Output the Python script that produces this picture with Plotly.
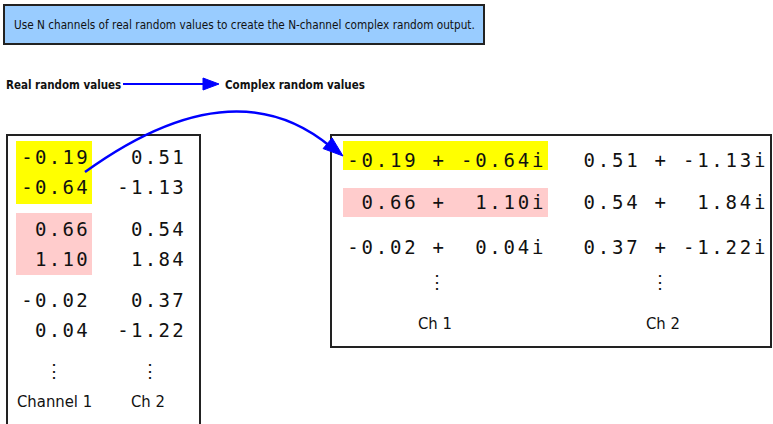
import math

import plotly.graph_objects as go

W, H = 773, 424

# ─── data ────────────────────────────────────────────────────────────────────
ch1_real = [-0.19, -0.64, 0.66, 1.10, -0.02, 0.04]
ch2_real = [0.51, -1.13, 0.54, 1.84, 0.37, -1.22]
left_labels = ["Channel 1", "Ch 2"]
right_labels = ["Ch 1", "Ch 2"]
title_text = "Use N channels of real random values to create the N-channel complex random output."
in_label = "Real random values"
out_label = "Complex random values"

BLUE = "#0000FF"
YELLOW = "#FFFF00"
PINK = "#FFCCCC"
INK = "#111111"
MONO = "DejaVu Sans Mono"
NARROW = "DejaVu Sans Condensed, Liberation Sans, sans-serif"


def real_str(v):
    return f"{v:5.2f}"


def cplx_str(re, im):
    return f"{re:5.2f} + {im:5.2f}i"


def char_trace(strings, x0, ys, pitch, size=19):
    # monospace text laid out one glyph per cell, so the spacing matches the source
    xs, yy, tt = [], [], []
    for s, y in zip(strings, ys):
        for k, c in enumerate(s):
            if c == " ":
                continue
            xs.append(x0 + (k + 0.5) * pitch)
            yy.append(y)
            tt.append(c)
    return go.Scatter(
        x=xs, y=yy, text=tt, mode="text",
        textfont=dict(family=MONO, size=size, color=INK),
        hoverinfo="skip", showlegend=False,
    )


fig = go.Figure()

# ── left box: real values per channel ────────────────────────────────────────
left_y = [159, 189, 231, 261, 302, 332]
fig.add_trace(char_trace([real_str(v) for v in ch1_real], 20, left_y, 13.8))
fig.add_trace(char_trace([real_str(v) for v in ch2_real], 116, left_y, 13.8))

# ── right box: complex values ────────────────────────────────────────────────
right_y = [162, 204, 249]
c1 = [cplx_str(ch1_real[2 * i], ch1_real[2 * i + 1]) for i in range(3)]
c2 = [cplx_str(ch2_real[2 * i], ch2_real[2 * i + 1]) for i in range(3)]
fig.add_trace(char_trace(c1, 346, right_y, 14.2))
fig.add_trace(char_trace(c2, 568, right_y, 14.2))

# vertical ellipses
fig.add_trace(go.Scatter(
    x=[54, 150, 437, 660], y=[372, 372, 283, 283], text=["⋮"] * 4, mode="text",
    textfont=dict(family=MONO, size=18, color=INK), hoverinfo="skip", showlegend=False,
))

shapes = []
# title box
shapes.append(dict(type="rect", x0=4, y0=5, x1=484, y1=44,
                   fillcolor="#99CCFF", line=dict(color="#222", width=2), layer="below"))
# highlights
shapes += [
    dict(type="rect", x0=16, y0=141, x1=92, y1=204, fillcolor=YELLOW, line_width=0, layer="below"),
    dict(type="rect", x0=16, y0=213, x1=92, y1=275, fillcolor=PINK, line_width=0, layer="below"),
    dict(type="rect", x0=343, y0=141, x1=548, y1=170, fillcolor=YELLOW, line_width=0, layer="below"),
    dict(type="rect", x0=343, y0=188, x1=548, y1=217, fillcolor=PINK, line_width=0, layer="below"),
]
# frames
shapes.append(dict(type="path", path="M 7,440 L 7,135 L 200,135 L 200,440",
                   line=dict(color="#222", width=2)))
shapes.append(dict(type="rect", x0=331, y0=135, x1=771, y1=347,
                   line=dict(color="#222", width=2)))

# straight arrow between the two headings
shapes.append(dict(type="line", x0=123, y0=84, x1=206, y1=84, line=dict(color=BLUE, width=2)))
shapes.append(dict(type="path", path="M 203,78 L 219,84 L 203,90 Z",
                   fillcolor=BLUE, line=dict(color=BLUE, width=1)))

# curved arrow from the first pair to the first complex value
p0, cp, tip = (85, 172), (233, 65), (343, 156)
shapes.append(dict(type="path",
                   path=f"M {p0[0]},{p0[1]} Q {cp[0]},{cp[1]} {tip[0] - 12},{tip[1] - 9}",
                   line=dict(color=BLUE, width=2.5)))
dx, dy = tip[0] - cp[0], tip[1] - cp[1]
n = math.hypot(dx, dy)
ux, uy = dx / n, dy / n
bx, by = tip[0] - 20 * ux, tip[1] - 20 * uy
px, py = -uy * 7, ux * 7
shapes.append(dict(type="path",
                   path=f"M {bx + px:.1f},{by + py:.1f} L {tip[0]},{tip[1]} L {bx - px:.1f},{by - py:.1f} Z",
                   fillcolor=BLUE, line=dict(color=BLUE, width=1)))

annotations = [
    dict(x=12, y=25, text=title_text, xanchor="left", yanchor="middle",
         font=dict(family=NARROW, size=11.7, color=INK)),
    dict(x=4, y=85, text=f"<b>{in_label}</b>", xanchor="left", yanchor="middle",
         font=dict(family=NARROW, size=11.5, color=INK)),
    dict(x=223, y=85, text=f"<b>{out_label}</b>", xanchor="left", yanchor="middle",
         font=dict(family=NARROW, size=11.5, color=INK)),
]
for lab, cx in zip(left_labels, [54, 148]):
    annotations.append(dict(x=cx, y=401, text=lab, xanchor="center", yanchor="middle",
                            font=dict(family=NARROW, size=16.5, color=INK)))
for lab, cx in zip(right_labels, [435, 663]):
    annotations.append(dict(x=cx, y=323, text=lab, xanchor="center", yanchor="middle",
                            font=dict(family=NARROW, size=16.5, color=INK)))
for a in annotations:
    a.update(xref="x", yref="y", showarrow=False)

fig.update_layout(
    width=W, height=H,
    margin=dict(l=0, r=0, t=0, b=0),
    paper_bgcolor="white", plot_bgcolor="white",
    shapes=shapes, annotations=annotations,
    showlegend=False,
)
fig.update_xaxes(range=[0, W], visible=False, fixedrange=True)
fig.update_yaxes(range=[H, 0], visible=False, fixedrange=True)

# drop the default page margin so the figure sits at the window's corner
fig.write_html("out.html", config={"displayModeBar": False},
               post_script="document.body.style.margin='0';")
